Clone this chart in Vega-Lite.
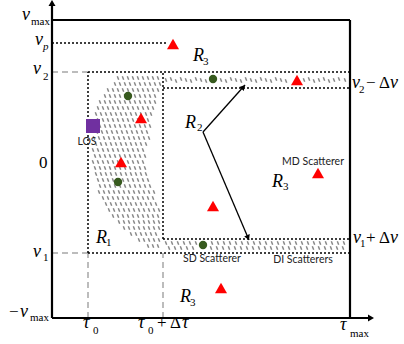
{
"$schema": "https://vega.github.io/schema/vega-lite/v6.json",
"width": 404, "height": 344, "autosize": "none", "padding": 0,
"background": "white",
"config": {"view": {"stroke": null}},
"datasets": {
"lines": [
{"x":0,"y":-149,"x2":0,"y2":163,"kind":"solid"},
{"x":0,"y":-149,"x2":316,"y2":-149,"kind":"solid"},
{"x":0,"y":149,"x2":298,"y2":149,"kind":"solid"},
{"x":298,"y":-149,"x2":298,"y2":149,"kind":"solid"},
{"x":0,"y":126,"x2":116,"y2":126,"kind":"dotted"},
{"x":36,"y":97,"x2":298,"y2":97,"kind":"dotted"},
{"x":111,"y":81,"x2":298,"y2":81,"kind":"dotted"},
{"x":111,"y":-70,"x2":298,"y2":-70,"kind":"dotted"},
{"x":36,"y":-84,"x2":298,"y2":-84,"kind":"dotted"},
{"x":36,"y":-84,"x2":36,"y2":97,"kind":"dotted"},
{"x":111,"y":-70,"x2":111,"y2":97,"kind":"dotted"},
{"x":0,"y":97,"x2":36,"y2":97,"kind":"dashed"},
{"x":0,"y":-84,"x2":36,"y2":-84,"kind":"dashed"},
{"x":36,"y":-149,"x2":36,"y2":-84,"kind":"dashed"},
{"x":111,"y":-149,"x2":111,"y2":-84,"kind":"dashed"},
{"x":151,"y":37,"x2":193,"y2":84,"kind":"arrow"},
{"x":151,"y":37,"x2":197,"y2":-71,"kind":"arrow"}
],
"heads": [
{"x":0,"y":166,"dir":"up"},
{"x":319,"y":-149,"dir":"right"},
{"x":191.3,"y":82,"dir":"ne"},
{"x":196,"y":-68.6,"dir":"se"}
],
"symbols": [
{"x":121,"y":125,"kind":"tri"},
{"x":89,"y":51,"kind":"tri"},
{"x":69,"y":7,"kind":"tri"},
{"x":161,"y":-37,"kind":"tri"},
{"x":245,"y":89,"kind":"tri"},
{"x":266,"y":-4,"kind":"tri"},
{"x":169,"y":-119,"kind":"tri"},
{"x":76,"y":73,"kind":"dot"},
{"x":66,"y":-13,"kind":"dot"},
{"x":161,"y":90,"kind":"dot"},
{"x":151,"y":-76,"kind":"dot"},
{"x":41,"y":43,"kind":"los"}
],
"band": [
{"x":114,"y":89},{"x":119,"y":90},{"x":124,"y":88},{"x":129,"y":90},{"x":134,"y":89},{"x":139,"y":88},{"x":144,"y":90},{"x":149,"y":89},{"x":154,"y":88},{"x":169,"y":89},{"x":174,"y":88},{"x":179,"y":90},{"x":184,"y":89},{"x":189,"y":88},{"x":194,"y":90},{"x":199,"y":89},{"x":204,"y":88},{"x":209,"y":90},{"x":214,"y":89},{"x":219,"y":88},{"x":224,"y":90},{"x":229,"y":89},{"x":234,"y":88},{"x":252,"y":89},{"x":257,"y":90},{"x":262,"y":88},{"x":267,"y":89},{"x":272,"y":90},{"x":277,"y":88},{"x":282,"y":89},{"x":287,"y":90},{"x":293,"y":89},
{"x":114,"y":-74},{"x":120,"y":-74},{"x":126,"y":-74},{"x":132,"y":-74},{"x":138,"y":-74},{"x":144,"y":-74},{"x":160,"y":-74},{"x":166,"y":-74},{"x":172,"y":-74},{"x":178,"y":-74},{"x":184,"y":-74},{"x":190,"y":-74},{"x":196,"y":-74},{"x":202,"y":-74},{"x":208,"y":-74},{"x":214,"y":-74},{"x":220,"y":-74},{"x":226,"y":-74},{"x":232,"y":-74},{"x":238,"y":-74},{"x":244,"y":-74},{"x":250,"y":-74},{"x":256,"y":-74},{"x":262,"y":-74},{"x":268,"y":-74},{"x":274,"y":-74},{"x":280,"y":-74},{"x":286,"y":-74},{"x":292,"y":-74},
{"x":117,"y":-79},{"x":123,"y":-79},{"x":129,"y":-79},{"x":135,"y":-79},{"x":141,"y":-79},{"x":159,"y":-79},{"x":165,"y":-79},{"x":171,"y":-79},{"x":177,"y":-79},{"x":183,"y":-79},{"x":189,"y":-79},{"x":195,"y":-79},{"x":201,"y":-79},{"x":207,"y":-79},{"x":213,"y":-79},{"x":219,"y":-79},{"x":225,"y":-79},{"x":231,"y":-79},{"x":237,"y":-79},{"x":243,"y":-79},{"x":249,"y":-79},{"x":255,"y":-79},{"x":261,"y":-79},{"x":267,"y":-79},{"x":273,"y":-79},{"x":279,"y":-79},{"x":285,"y":-79},{"x":291,"y":-79}
],
"cloud": [
{"x":66,"y":91},{"x":71,"y":91},{"x":76,"y":91},{"x":81,"y":91},{"x":86,"y":91},{"x":91,"y":91},{"x":96,"y":91},{"x":101,"y":91},{"x":106,"y":91},
{"x":63,"y":85},{"x":68,"y":85},{"x":73,"y":85},{"x":78,"y":85},{"x":83,"y":85},{"x":88,"y":85},{"x":93,"y":85},{"x":98,"y":85},{"x":103,"y":85},{"x":108,"y":85},
{"x":56,"y":79},{"x":61,"y":79},{"x":66,"y":79},{"x":71,"y":79},{"x":76,"y":79},{"x":81,"y":79},{"x":86,"y":79},{"x":91,"y":79},{"x":96,"y":79},{"x":101,"y":79},{"x":106,"y":79},
{"x":53,"y":73},{"x":58,"y":73},{"x":63,"y":73},{"x":68,"y":73},{"x":73,"y":73},{"x":78,"y":73},{"x":83,"y":73},{"x":88,"y":73},{"x":93,"y":73},{"x":98,"y":73},{"x":103,"y":73},
{"x":48,"y":67},{"x":53,"y":67},{"x":58,"y":67},{"x":63,"y":67},{"x":68,"y":67},{"x":73,"y":67},{"x":78,"y":67},{"x":83,"y":67},{"x":88,"y":67},{"x":93,"y":67},{"x":98,"y":67},{"x":103,"y":67},
{"x":46,"y":61},{"x":51,"y":61},{"x":56,"y":61},{"x":61,"y":61},{"x":66,"y":61},{"x":71,"y":61},{"x":76,"y":61},{"x":81,"y":61},{"x":86,"y":61},{"x":91,"y":61},{"x":96,"y":61},{"x":101,"y":61},
{"x":44,"y":55},{"x":49,"y":55},{"x":54,"y":55},{"x":59,"y":55},{"x":64,"y":55},{"x":69,"y":55},{"x":74,"y":55},{"x":79,"y":55},{"x":84,"y":55},{"x":89,"y":55},{"x":94,"y":55},{"x":99,"y":55},
{"x":46,"y":49},{"x":51,"y":49},{"x":56,"y":49},{"x":61,"y":49},{"x":66,"y":49},{"x":71,"y":49},{"x":76,"y":49},{"x":81,"y":49},{"x":86,"y":49},{"x":91,"y":49},{"x":96,"y":49},
{"x":43,"y":43},{"x":48,"y":43},{"x":53,"y":43},{"x":58,"y":43},{"x":63,"y":43},{"x":68,"y":43},{"x":73,"y":43},{"x":78,"y":43},{"x":83,"y":43},{"x":88,"y":43},{"x":93,"y":43},{"x":98,"y":43},
{"x":45,"y":37},{"x":50,"y":37},{"x":55,"y":37},{"x":60,"y":37},{"x":65,"y":37},{"x":70,"y":37},{"x":75,"y":37},{"x":80,"y":37},{"x":85,"y":37},{"x":90,"y":37},{"x":95,"y":37},
{"x":42,"y":31},{"x":47,"y":31},{"x":52,"y":31},{"x":57,"y":31},{"x":62,"y":31},{"x":67,"y":31},{"x":72,"y":31},{"x":77,"y":31},{"x":82,"y":31},{"x":87,"y":31},{"x":92,"y":31},{"x":97,"y":31},
{"x":44,"y":25},{"x":49,"y":25},{"x":54,"y":25},{"x":59,"y":25},{"x":64,"y":25},{"x":69,"y":25},{"x":74,"y":25},{"x":79,"y":25},{"x":84,"y":25},{"x":89,"y":25},{"x":94,"y":25},
{"x":41,"y":19},{"x":46,"y":19},{"x":51,"y":19},{"x":56,"y":19},{"x":61,"y":19},{"x":66,"y":19},{"x":71,"y":19},{"x":76,"y":19},{"x":81,"y":19},{"x":86,"y":19},{"x":91,"y":19},
{"x":43,"y":13},{"x":48,"y":13},{"x":53,"y":13},{"x":58,"y":13},{"x":63,"y":13},{"x":68,"y":13},{"x":73,"y":13},{"x":78,"y":13},{"x":83,"y":13},{"x":88,"y":13},{"x":93,"y":13},
{"x":41,"y":7},{"x":46,"y":7},{"x":51,"y":7},{"x":56,"y":7},{"x":61,"y":7},{"x":66,"y":7},{"x":71,"y":7},{"x":76,"y":7},{"x":81,"y":7},{"x":86,"y":7},{"x":91,"y":7},
{"x":43,"y":1},{"x":48,"y":1},{"x":53,"y":1},{"x":58,"y":1},{"x":63,"y":1},{"x":68,"y":1},{"x":73,"y":1},{"x":78,"y":1},{"x":83,"y":1},{"x":88,"y":1},{"x":93,"y":1},
{"x":44,"y":-5},{"x":49,"y":-5},{"x":54,"y":-5},{"x":59,"y":-5},{"x":64,"y":-5},{"x":69,"y":-5},{"x":74,"y":-5},{"x":79,"y":-5},{"x":84,"y":-5},{"x":89,"y":-5},{"x":94,"y":-5},
{"x":46,"y":-11},{"x":51,"y":-11},{"x":56,"y":-11},{"x":61,"y":-11},{"x":66,"y":-11},{"x":71,"y":-11},{"x":76,"y":-11},{"x":81,"y":-11},{"x":86,"y":-11},{"x":91,"y":-11},{"x":96,"y":-11},
{"x":48,"y":-17},{"x":53,"y":-17},{"x":58,"y":-17},{"x":63,"y":-17},{"x":68,"y":-17},{"x":73,"y":-17},{"x":78,"y":-17},{"x":83,"y":-17},{"x":88,"y":-17},{"x":93,"y":-17},{"x":98,"y":-17},
{"x":47,"y":-23},{"x":52,"y":-23},{"x":57,"y":-23},{"x":62,"y":-23},{"x":67,"y":-23},{"x":72,"y":-23},{"x":77,"y":-23},{"x":82,"y":-23},{"x":87,"y":-23},{"x":92,"y":-23},{"x":97,"y":-23},{"x":102,"y":-23},
{"x":51,"y":-29},{"x":56,"y":-29},{"x":61,"y":-29},{"x":66,"y":-29},{"x":71,"y":-29},{"x":76,"y":-29},{"x":81,"y":-29},{"x":86,"y":-29},{"x":91,"y":-29},{"x":96,"y":-29},{"x":101,"y":-29},
{"x":54,"y":-35},{"x":59,"y":-35},{"x":64,"y":-35},{"x":69,"y":-35},{"x":74,"y":-35},{"x":79,"y":-35},{"x":84,"y":-35},{"x":89,"y":-35},{"x":94,"y":-35},{"x":99,"y":-35},{"x":104,"y":-35},
{"x":57,"y":-41},{"x":62,"y":-41},{"x":67,"y":-41},{"x":72,"y":-41},{"x":77,"y":-41},{"x":82,"y":-41},{"x":87,"y":-41},{"x":92,"y":-41},{"x":97,"y":-41},{"x":102,"y":-41},{"x":107,"y":-41},
{"x":61,"y":-47},{"x":66,"y":-47},{"x":71,"y":-47},{"x":76,"y":-47},{"x":81,"y":-47},{"x":86,"y":-47},{"x":91,"y":-47},{"x":96,"y":-47},{"x":101,"y":-47},{"x":106,"y":-47},
{"x":67,"y":-53},{"x":72,"y":-53},{"x":77,"y":-53},{"x":82,"y":-53},{"x":87,"y":-53},{"x":92,"y":-53},{"x":97,"y":-53},{"x":102,"y":-53},{"x":107,"y":-53},
{"x":72,"y":-59},{"x":77,"y":-59},{"x":82,"y":-59},{"x":87,"y":-59},{"x":92,"y":-59},{"x":97,"y":-59},{"x":102,"y":-59},{"x":107,"y":-59},
{"x":79,"y":-65},{"x":84,"y":-65},{"x":89,"y":-65},{"x":94,"y":-65},{"x":99,"y":-65},{"x":104,"y":-65},
{"x":87,"y":-71},{"x":92,"y":-71},{"x":97,"y":-71},{"x":102,"y":-71},{"x":107,"y":-71},
{"x":96,"y":-77},{"x":101,"y":-77},{"x":106,"y":-77}
],
"texts": [
{"x":-30,"y":149,"text":"ν","role":"sym"},
{"x":-17,"y":124,"text":"ν","role":"sym"},
{"x":-19,"y":95,"text":"ν","role":"sym"},
{"x":-19,"y":-88,"text":"ν","role":"sym"},
{"x":-32,"y":-148,"text":"ν","role":"sym"},
{"x":31,"y":-159,"text":"τ","role":"sym"},
{"x":86,"y":-159,"text":"τ","role":"sym"},
{"x":130,"y":-159,"text":"τ","role":"sym"},
{"x":288,"y":-161,"text":"τ","role":"sym"},
{"x":300,"y":81,"text":"ν","role":"sym"},
{"x":338,"y":81,"text":"ν","role":"sym"},
{"x":301,"y":-74,"text":"ν","role":"sym"},
{"x":338,"y":-74,"text":"ν","role":"sym"},
{"x":141,"y":108,"text":"R","role":"sym"},
{"x":133,"y":41,"text":"R","role":"sym"},
{"x":220,"y":-18,"text":"R","role":"sym"},
{"x":44,"y":-74,"text":"R","role":"sym"},
{"x":128,"y":-133,"text":"R","role":"sym"},
{"x":-21,"y":144,"text":"max","role":"sub"},
{"x":-9,"y":119,"text":"p","role":"subi"},
{"x":-9,"y":89,"text":"2","role":"sub"},
{"x":-9,"y":-92,"text":"1","role":"sub"},
{"x":-22,"y":-152,"text":"max","role":"sub"},
{"x":41,"y":-165,"text":"0","role":"sub"},
{"x":96,"y":-165,"text":"0","role":"sub"},
{"x":298,"y":-168,"text":"max","role":"sub"},
{"x":307,"y":76,"text":"2","role":"sub"},
{"x":308,"y":-78,"text":"1","role":"sub"},
{"x":151,"y":104,"text":"3","role":"sub"},
{"x":145,"y":38,"text":"2","role":"sub"},
{"x":231,"y":-21,"text":"3","role":"sub"},
{"x":54,"y":-77,"text":"1","role":"sub"},
{"x":138,"y":-137,"text":"3","role":"sub"},
{"x":-13,"y":1,"text":"0","role":"op"},
{"x":-43,"y":-148,"text":"−","role":"op"},
{"x":105,"y":-159,"text":"+ Δ","role":"op"},
{"x":314,"y":81,"text":"− Δ","role":"op"},
{"x":314,"y":-74,"text":"+ Δ","role":"op"},
{"x":35,"y":27,"text":"LOS","role":"label"},
{"x":261,"y":7,"text":"MD Scatterer","role":"label"},
{"x":160,"y":-90,"text":"SD Scatterer","role":"label"},
{"x":251,"y":-91,"text":"DI Scatterers","role":"label"}
]
},
"encoding": {
"x": {"field":"x","type":"quantitative","scale":{"domain":[-52,352],"nice":false,"zero":false},"axis":null},
"y": {"field":"y","type":"quantitative","scale":{"domain":[-175,169],"nice":false,"zero":false},"axis":null}
},
"layer": [
{"data":{"name":"lines"},"transform":[{"filter":"datum.kind === 'dashed'"}],"mark":{"type":"rule","stroke":"#a6a6a6","strokeWidth":1.5,"strokeDash":[6,4]},"encoding":{"x2":{"field":"x2"},"y2":{"field":"y2"}}},
{"data":{"name":"lines"},"transform":[{"filter":"datum.kind === 'dotted'"}],"mark":{"type":"rule","stroke":"#000000","strokeWidth":1.5,"strokeDash":[2,2]},"encoding":{"x2":{"field":"x2"},"y2":{"field":"y2"}}},
{"data":{"name":"lines"},"transform":[{"filter":"datum.kind === 'solid'"}],"mark":{"type":"rule","stroke":"#000000","strokeWidth":2.2},"encoding":{"x2":{"field":"x2"},"y2":{"field":"y2"}}},
{"data":{"name":"lines"},"transform":[{"filter":"datum.kind === 'arrow'"}],"mark":{"type":"rule","stroke":"#000000","strokeWidth":1.3},"encoding":{"x2":{"field":"x2"},"y2":{"field":"y2"}}},
{"data":{"name":"cloud"},"mark":{"type":"point","shape":"M-0.4,-1L0.4,1","filled":false,"stroke":"#8a8a8a","strokeWidth":1.5,"size":12,"opacity":1}},
{"data":{"name":"band"},"mark":{"type":"point","shape":"M-0.4,-1L0.4,1","filled":false,"stroke":"#8a8a8a","strokeWidth":1.5,"size":12,"opacity":1}},
{"data":{"name":"symbols"},"transform":[{"filter":"datum.kind === 'tri'"}],"mark":{"type":"point","shape":"triangle-up","filled":true,"color":"#ff0000","size":144,"opacity":1}},
{"data":{"name":"symbols"},"transform":[{"filter":"datum.kind === 'dot'"}],"mark":{"type":"point","shape":"circle","filled":true,"color":"#375a1e","size":70,"opacity":1}},
{"data":{"name":"symbols"},"transform":[{"filter":"datum.kind === 'los'"}],"mark":{"type":"point","shape":"square","filled":true,"color":"#7030a0","size":196,"opacity":1}},
{"data":{"name":"heads"},"transform":[{"filter":"datum.dir === 'up'"}],"mark":{"type":"point","shape":"triangle-up","filled":true,"color":"#000000","size":49,"opacity":1}},
{"data":{"name":"heads"},"transform":[{"filter":"datum.dir === 'right'"}],"mark":{"type":"point","shape":"triangle-right","filled":true,"color":"#000000","size":49,"opacity":1}},
{"data":{"name":"heads"},"transform":[{"filter":"datum.dir === 'ne'"}],"mark":{"type":"point","shape":"triangle-up","angle":42,"filled":true,"color":"#000000","size":36,"opacity":1}},
{"data":{"name":"heads"},"transform":[{"filter":"datum.dir === 'se'"}],"mark":{"type":"point","shape":"triangle-up","angle":157,"filled":true,"color":"#000000","size":36,"opacity":1}},
{"data":{"name":"texts"},"transform":[{"filter":"datum.role === 'sym'"}],"mark":{"type":"text","font":"Liberation Serif","fontStyle":"italic","fontSize":18,"align":"left","baseline":"alphabetic","color":"#000000"},"encoding":{"text":{"field":"text"}}},
{"data":{"name":"texts"},"transform":[{"filter":"datum.role === 'sub'"}],"mark":{"type":"text","font":"Liberation Serif","fontSize":11,"align":"left","baseline":"alphabetic","color":"#000000"},"encoding":{"text":{"field":"text"}}},
{"data":{"name":"texts"},"transform":[{"filter":"datum.role === 'subi'"}],"mark":{"type":"text","font":"Liberation Serif","fontStyle":"italic","fontSize":11,"align":"left","baseline":"alphabetic","color":"#000000"},"encoding":{"text":{"field":"text"}}},
{"data":{"name":"texts"},"transform":[{"filter":"datum.role === 'op'"}],"mark":{"type":"text","font":"Liberation Serif","fontSize":17,"align":"left","baseline":"alphabetic","color":"#000000"},"encoding":{"text":{"field":"text"}}},
{"data":{"name":"texts"},"transform":[{"filter":"datum.role === 'label'"}],"mark":{"type":"text","font":"Lato","fontSize":10.5,"align":"center","baseline":"middle","color":"#222222"},"encoding":{"text":{"field":"text"}}}
]
}
